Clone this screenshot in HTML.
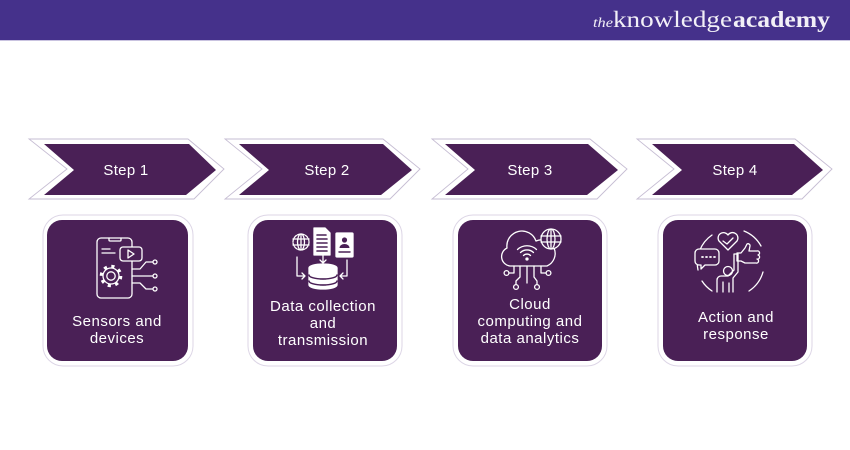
<!DOCTYPE html>
<html><head><meta charset="utf-8">
<style>
html,body{margin:0;padding:0;background:#fff;}
svg{display:block;}
text{font-family:"Liberation Sans",sans-serif;}
</style></head>
<body>
<svg width="850" height="450" viewBox="0 0 850 450" xmlns="http://www.w3.org/2000/svg">
<rect x="0" y="0" width="850" height="450" fill="#ffffff"/>
<!-- header -->
<rect x="0" y="0" width="850" height="40" fill="#45318b"/>
<rect x="0" y="40" width="850" height="1" fill="#c9c3e0"/>
<text x="593" y="27" font-style="italic" font-size="14" fill="#f2f0f7" textLength="20" lengthAdjust="spacingAndGlyphs" style="font-family:'Liberation Serif',serif">the</text>
<text x="613" y="27" font-size="23" fill="#f2f0f7" textLength="119" lengthAdjust="spacingAndGlyphs" style="font-family:'Liberation Serif',serif">knowledge</text>
<text x="733" y="27" font-size="23" font-weight="bold" fill="#f2f0f7" textLength="97" lengthAdjust="spacingAndGlyphs" style="font-family:'Liberation Serif',serif">academy</text>

<!-- arrows -->
<g id="arrows">
  <polygon points="29,139 188,139 224,169 194,199 29,199 67,169" fill="none" stroke="#c6bdd3" stroke-width="0.9"/>
  <polygon points="44,144 189,144 216,170 186,195 44,195 74,170" fill="#4a2056"/>
  <text x="126" y="175" font-size="15" fill="#fff" text-anchor="middle" letter-spacing="0.3">Step 1</text>
  <polygon points="225,139 383,139 420,169 390,199 225,199 262,169" fill="none" stroke="#c6bdd3" stroke-width="0.9"/>
  <polygon points="239,144 383,144 412,170 381,195 239,195 269,170" fill="#4a2056"/>
  <text x="327" y="175" font-size="15" fill="#fff" text-anchor="middle" letter-spacing="0.3">Step 2</text>
  <polygon points="432,139 590,139 627,169 597,199 432,199 468,169" fill="none" stroke="#c6bdd3" stroke-width="0.9"/>
  <polygon points="445,144 588,144 618,170 587,195 445,195 475,170" fill="#4a2056"/>
  <text x="530" y="175" font-size="15" fill="#fff" text-anchor="middle" letter-spacing="0.3">Step 3</text>
  <polygon points="637,139 795,139 832,169 802,199 637,199 674,169" fill="none" stroke="#c6bdd3" stroke-width="0.9"/>
  <polygon points="652,144 794,144 823,170 792,195 652,195 682,170" fill="#4a2056"/>
  <text x="735" y="175" font-size="15" fill="#fff" text-anchor="middle" letter-spacing="0.3">Step 4</text>
</g>

<!-- cards -->
<g>
  <rect x="43" y="215" width="150" height="151" rx="20" fill="none" stroke="#ddd6e6" stroke-width="1"/>
  <rect x="47" y="220" width="141" height="141" rx="15" fill="#4a2056"/>
  <rect x="248" y="215" width="154" height="151" rx="20" fill="none" stroke="#ddd6e6" stroke-width="1"/>
  <rect x="253" y="220" width="144" height="141" rx="15" fill="#4a2056"/>
  <rect x="453" y="215" width="154" height="151" rx="20" fill="none" stroke="#ddd6e6" stroke-width="1"/>
  <rect x="458" y="220" width="144" height="141" rx="15" fill="#4a2056"/>
  <rect x="658" y="215" width="154" height="151" rx="20" fill="none" stroke="#ddd6e6" stroke-width="1"/>
  <rect x="663" y="220" width="144" height="141" rx="15" fill="#4a2056"/>
</g>

<!-- card texts -->
<g font-size="15" fill="#fff" text-anchor="middle" letter-spacing="0.5">
  <text x="117" y="326">Sensors and</text>
  <text x="117" y="343">devices</text>
  <text x="323" y="311">Data collection</text>
  <text x="323" y="328">and</text>
  <text x="323" y="345">transmission</text>
  <text x="530" y="309">Cloud</text>
  <text x="530" y="326">computing and</text>
  <text x="530" y="343">data analytics</text>
  <text x="736" y="322">Action and</text>
  <text x="736" y="339">response</text>
</g>

<!-- icon 1: sensors -->
<g fill="none" stroke="#fff" stroke-width="1.3" stroke-linecap="round" stroke-linejoin="round">
  <rect x="97" y="238" width="35" height="60" rx="4"/>
  <path d="M109 238 v2 a1 1 0 0 0 1 1 h10 a1 1 0 0 0 1 -1 v-2"/>
  <path d="M102 249 h8 M102 253 h13"/>
  <rect x="120" y="247" width="22" height="14" rx="3" fill="#4a2056"/>
  <path d="M128 250 l6 4 l-6 4 z"/>
  <circle cx="111" cy="276" r="8"/>
  <circle cx="111" cy="276" r="9.8" stroke-width="3" stroke-dasharray="3.2 4.5" stroke-linecap="butt"/>
  <circle cx="111" cy="276" r="4.2"/>
  <path d="M132 269 h8 l6 -7 h7"/>
  <path d="M132 276 h21"/>
  <path d="M132 283 h8 l6 6 h7"/>
  <circle cx="155" cy="262" r="2"/>
  <circle cx="155" cy="276" r="2"/>
  <circle cx="155" cy="289" r="2"/>
</g>

<!-- icon 2: data collection -->
<g fill="none" stroke="#fff" stroke-width="1.3" stroke-linecap="round" stroke-linejoin="round">
  <circle cx="301" cy="242" r="8" stroke-dasharray="3 1.2"/>
  <ellipse cx="301" cy="242" rx="3.5" ry="8"/>
  <path d="M293 239 h16 M293 245 h16 M301 234 v16"/>
  <path d="M314 228 h11 l5 5 v22 h-16 z" fill="#fff" stroke="#fff"/>
  <path d="M317 235 h9 M317 239 h10 M317 243 h10 M317 247 h10 M317 251 h10" stroke="#4a2056" stroke-width="1.6"/>
  <rect x="336" y="233" width="17" height="24" rx="1" fill="#fff"/>
  <circle cx="344.5" cy="240" r="2.6" fill="#4a2056" stroke="none"/>
  <path d="M339.5 248 a5 4 0 0 1 10 0 z" fill="#4a2056" stroke="none"/>
  <path d="M339 252 h11" stroke="#4a2056" stroke-width="1.4"/>
  <path d="M297 257 v19 h8 M302 273 l3 3 l-3 3"/>
  <path d="M323 255 v8 M320 260 l3 3 l3 -3"/>
  <path d="M347 260 v16 h-7 M343 273 l-3 3 l3 3"/>
  <path d="M309 268 v17 a14 4 0 0 0 28 0 v-17" fill="#fff"/>
  <ellipse cx="323" cy="268" rx="14" ry="4" fill="#fff"/>
  <path d="M309 275 a14 4 0 0 0 28 0 M309 281 a14 4 0 0 0 28 0" stroke="#4a2056" stroke-width="1.5"/>
  <path d="M320 279 h6 M320 285 h6" stroke="#4a2056" stroke-width="1.2"/>
</g>

<!-- icon 3: cloud -->
<g fill="none" stroke="#fff" stroke-width="1.3" stroke-linecap="round" stroke-linejoin="round">
  <path d="M510 266 A9.5 9.5 0 0 1 507 248 A15 15 0 0 1 536 241 A12 12 0 0 1 547 266 Z"/>
  <circle cx="551" cy="239" r="10" fill="#4a2056"/>
  <ellipse cx="551" cy="239" rx="4" ry="10"/>
  <path d="M541 236 h20 M541 242 h20 M551 229 v20"/>
  <circle cx="527" cy="259" r="1" fill="#fff"/>
  <path d="M523.5 255.5 a5 5 0 0 1 7 0"/>
  <path d="M520.5 252.5 a9.5 9.5 0 0 1 13 0"/>
  <path d="M517.5 249.5 a14 14 0 0 1 19 0"/>
  <path d="M514 266 v7 h-5"/>
  <circle cx="506.5" cy="273" r="2.4"/>
  <path d="M520 266 v11 l-4 4 v3"/>
  <circle cx="516" cy="287" r="2.4"/>
  <path d="M527 266 v17"/>
  <path d="M534 266 v11 l3 4 v3"/>
  <circle cx="537" cy="287" r="2.4"/>
  <path d="M541 266 v7 h5"/>
  <circle cx="548.5" cy="273" r="2.4"/>
</g>

<!-- icon 4: action -->
<g fill="none" stroke="#fff" stroke-width="1.3" stroke-linecap="round" stroke-linejoin="round">
  <path d="M712 235 A34 34 0 0 0 698 270"/>
  <path d="M744 231 A34 34 0 0 1 761 246"/>
  <path d="M763 272 A34 34 0 0 1 749 291"/>
  <path d="M702 281 A34 34 0 0 0 712 291"/>
  <path d="M728 250 l-9 -9 a5 5 0 0 1 9 -6 a5 5 0 0 1 9 6 z" fill="#4a2056"/>
  <path d="M723 241 l4 3 l6 -6"/>
  <path d="M699 249 h16 a4 4 0 0 1 4 4 v8 a4 4 0 0 1 -4 4 h-10 l-4 4 v-4 h-2 a4 4 0 0 1 -4 -4 v-8 a4 4 0 0 1 4 -4 z" fill="#4a2056"/>
  <path d="M702 257 h1 M706 257 h1 M710 257 h1 M714 257 h1" stroke-width="1.8"/>
  <path d="M737 253 h4 l4 -5 l2 -4 a2 2 0 0 1 3 2 l-1 5 h8 a2 2 0 0 1 1 4 a2 2 0 0 1 -1 4 a2 2 0 0 1 -1 4 h-11 l-4 -2 h-4 z" fill="#4a2056"/>
  <circle cx="728" cy="271" r="4.5"/>
  <path d="M717 292 v-12 a4 4 0 0 1 4 -4 h7 l6 -6 v-16 h4 v18 l-5 6 v14"/>
  <path d="M723 292 v-10 M729 292 v-9"/>
</g>
</svg>
</body></html>
